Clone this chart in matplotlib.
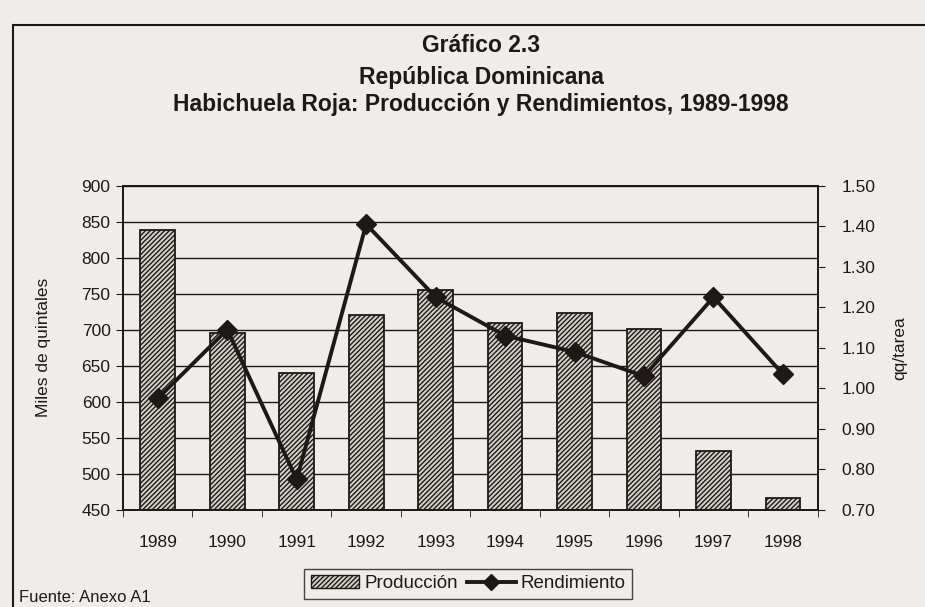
import matplotlib
matplotlib.use("Agg")
import matplotlib.pyplot as plt
from matplotlib.lines import Line2D
from matplotlib.patches import Patch, Rectangle
import numpy as np

plt.rcParams['font.family'] = ['Liberation Sans', 'DejaVu Sans']
plt.rcParams['hatch.linewidth'] = 1.0

years = ['1989', '1990', '1991', '1992', '1993', '1994', '1995', '1996', '1997', '1998']
produccion = [838, 695, 640, 720, 755, 710, 723, 701, 532, 467]
rendimiento = [0.975, 1.145, 0.775, 1.405, 1.225, 1.13, 1.09, 1.03, 1.225, 1.035]
left_ticks = [450, 500, 550, 600, 650, 700, 750, 800, 850, 900]
right_ticks = [0.70, 0.80, 0.90, 1.00, 1.10, 1.20, 1.30, 1.40, 1.50]

bg = '#eeede9'
ink = '#1f1818'

fig = plt.figure(figsize=(9.25, 6.07), dpi=100, facecolor=bg)
ax = fig.add_axes([0.133, 0.160, 0.751, 0.534])
ax.set_facecolor(bg)
x = np.arange(len(years))

ax.bar(x, [p - left_ticks[0] for p in produccion], bottom=left_ticks[0], width=0.5,
       color='#d3d2c8', edgecolor=ink, hatch='///////', linewidth=1.3, zorder=3)
ax.set_ylim(left_ticks[0], left_ticks[-1])
ax.set_yticks(left_ticks)
ax.set_xlim(-0.5, len(years) - 0.5)
ax.set_xticks(x)
ax.set_xticklabels(years)
ax.set_xticks(np.arange(len(years) + 1) - 0.5, minor=True)
ax.tick_params(axis='x', which='major', length=0, pad=18, labelsize=12.5, colors=ink)
ax.tick_params(axis='x', which='minor', length=5, direction='out', color=ink)
ax.tick_params(axis='y', length=5, direction='out', labelsize=12.5, colors=ink, pad=4)
ax.grid(axis='y', color=ink, linewidth=1.0, zorder=1)
for s in ax.spines.values():
    s.set_color(ink)
    s.set_linewidth(1.3)
ax.set_ylabel('Miles de quintales', fontsize=12.5, color=ink, labelpad=22)

ax2 = ax.twinx()
ax2.plot(x, rendimiento, color=ink, linewidth=2.8, marker='D', markersize=10,
         markerfacecolor=ink, markeredgecolor=ink, zorder=5)
ax2.set_ylim(right_ticks[0], right_ticks[-1])
ax2.set_yticks(right_ticks)
ax2.set_yticklabels([f'{v:.2f}' for v in right_ticks])
ax2.tick_params(axis='y', length=5, direction='out', labelsize=12.5, colors=ink, pad=12)
for s in ax2.spines.values():
    s.set_color(ink)
    s.set_linewidth(1.3)
ax2.set_ylabel('qq/tarea', fontsize=12.5, color=ink, labelpad=12)

fig.text(0.52, 0.925, 'Gráfico 2.3', ha='center', va='center', fontsize=16.5, fontweight='bold', color=ink)
fig.text(0.52, 0.873, 'República Dominicana', ha='center', va='center', fontsize=16.5, fontweight='bold', color=ink)
fig.text(0.52, 0.828, 'Habichuela Roja: Producción y Rendimientos, 1989-1998', ha='center', va='center',
         fontsize=16.5, fontweight='bold', color=ink)

handles = [Patch(facecolor='#d3d2c8', edgecolor=ink, hatch='///////', linewidth=1.0),
           Line2D([0], [0], color=ink, linewidth=2.8, marker='D', markersize=8)]
leg = fig.legend(handles, ['Producción', 'Rendimiento'], loc='center', bbox_to_anchor=(0.506, 0.038),
                 ncol=2, frameon=True, fancybox=False, fontsize=13.5, handlelength=2.6,
                 handletextpad=0.25, columnspacing=0.5, borderpad=0.35, facecolor=bg)
leg.get_frame().set_edgecolor(ink)
leg.get_frame().set_linewidth(1.0)
for t in leg.get_texts():
    t.set_color(ink)

fig.text(0.021, 0.015, 'Fuente: Anexo A1', ha='left', va='center', fontsize=12, color=ink)

fig.patches.append(Rectangle((0.014, -0.2), 1.2, 1.158, transform=fig.transFigure,
                             fill=False, edgecolor=ink, linewidth=1.5))

fig.savefig('out.png', dpi=100, facecolor=bg)
